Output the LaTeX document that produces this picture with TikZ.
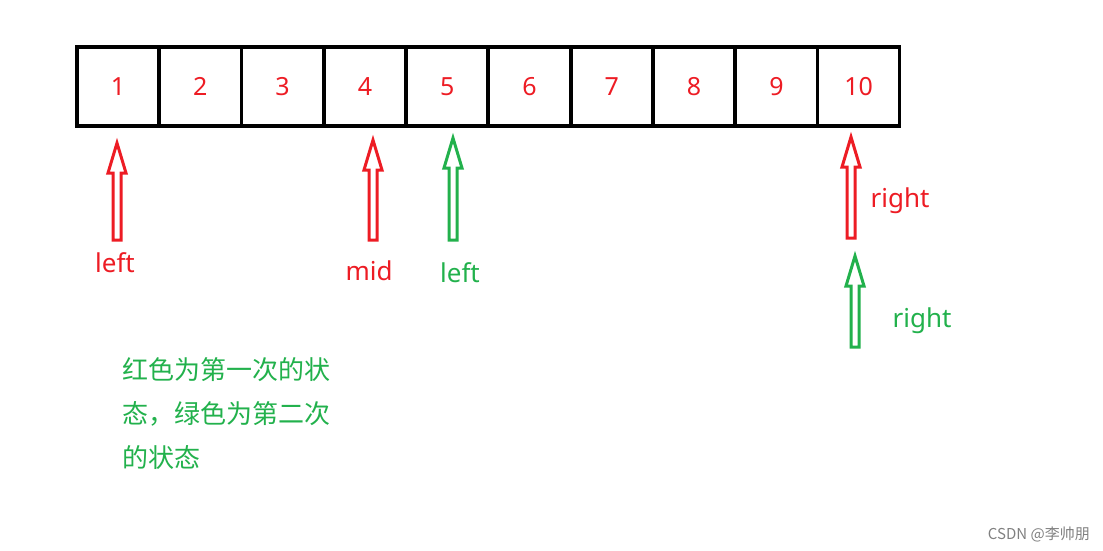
\documentclass[tikz,border=0pt]{standalone}
\usepackage{fontspec}
\setmainfont{Noto Sans}
\newfontfamily\cjk{Noto Sans CJK SC}
\usetikzlibrary{positioning}
\definecolor{ptrred}{RGB}{237,28,36}
\definecolor{ptrgreen}{RGB}{34,177,76}
\tikzset{
  cellbox/.style={draw,line width=3.5pt,minimum width=82pt,minimum height=79pt,inner sep=0pt,outer sep=0pt,text=ptrred,font=\fontsize{25}{25}\selectfont},
  ptrlabel/.style={font=\fontsize{26}{26}\selectfont},
  hollow/.style={line width=3pt,line join=miter}
}
\newcommand{\hollowarrow}[4]{% colour, x, top, bottom
  \draw[hollow,#1] (#2,#3) -- ++(9,30) -- ++(-5,0) -- (#2+4,#4) -- (#2-4,#4) -- (#2-4,#3+30) -- ++(-5,0) -- cycle;}
\begin{document}
\begin{tikzpicture}[x=1pt,y=-1pt]
\useasboundingbox (0,0) rectangle (1103,551);
\foreach \i in {1,...,10}{
  \node[cellbox] (c\i) at ({77+41+82.3*(\i-1)},86.5) {\i};
}
\hollowarrow{ptrred}{117}{143}{240}
\hollowarrow{ptrred}{373}{140}{240}
\hollowarrow{ptrgreen}{453}{138}{240}
\hollowarrow{ptrred}{851}{137}{238}
\hollowarrow{ptrgreen}{855}{256}{347}
\node[ptrlabel,text=ptrred] (l1) at (115,263) {left};
\node[ptrlabel,text=ptrred] (m1) at (369,271) {mid};
\node[ptrlabel,text=ptrgreen] (l2) at (460,273) {left};
\node[ptrlabel,text=ptrred] (r1) at (900,201) {right};
\node[ptrlabel,text=ptrgreen] (r2) at (922,321) {right};
\node[text=ptrgreen,font=\cjk\fontsize{26}{44}\selectfont,align=left,anchor=north west,inner sep=0pt] (note) at (122,357)
  {红色为第一次的状\\态，绿色为第二次\\的状态};
\node[text=gray,font=\cjk\fontsize{15}{15}\selectfont,anchor=east,inner sep=0pt] (mark) at (1090,534) {CSDN @李帅朋};
\end{tikzpicture}
\end{document}
